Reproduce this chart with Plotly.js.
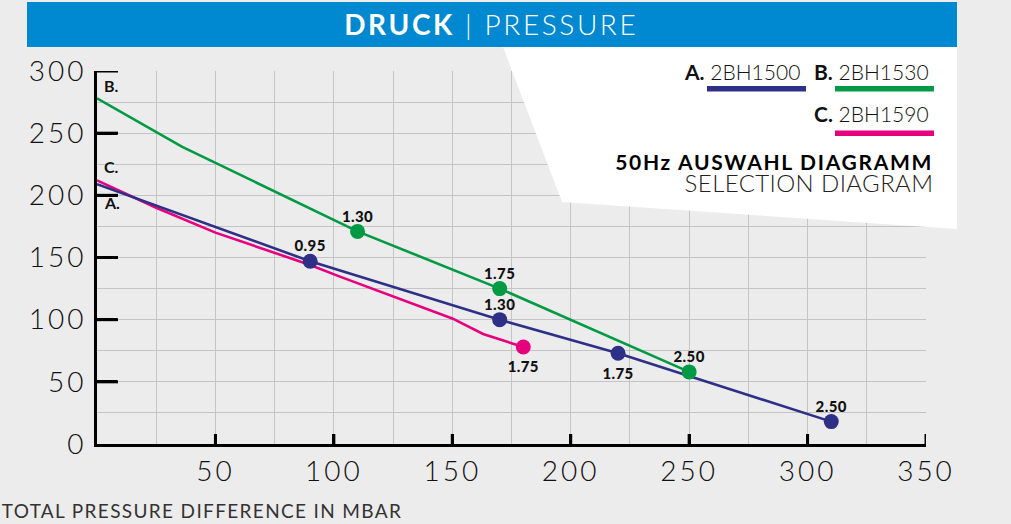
<!DOCTYPE html>
<html>
<head>
<meta charset="utf-8">
<script src="https://cdn.plot.ly/plotly-3.0.1.min.js"></script>
<style>
html,body{margin:0;padding:0;background:#ececec;}
#chart{width:1011px;height:524px;}
#chart .xtick text, #chart .ytick text{letter-spacing:3px;}
#chart g.annotation[data-index="0"] text{letter-spacing:2.6px;}
#chart g.annotation[data-index="4"] text{letter-spacing:1.7px;}
#chart g.annotation[data-index="5"] text{letter-spacing:0.4px;}
#chart g.annotation[data-index="6"] text{letter-spacing:1.35px;}
#chart .textpoint text{letter-spacing:0.4px;}
</style>
</head>
<body>
<div id="chart"></div>
<script>
// ---- data ----
const seriesNames = ['2BH1500', '2BH1530', '2BH1590'];
const seriesLetters = ['A.', 'B.', 'C.'];

const aX = [0, 90, 170, 220, 310];
const aY = [209, 147, 100, 73, 18];
const bX = [0, 36, 110, 170, 250];
const bY = [278, 239, 171, 125, 58];
const cX = [0, 25, 50, 90, 102, 150, 163, 180];
const cY = [212, 190, 170, 144, 135, 101, 88.5, 78];

const aPtX = [90, 170, 220, 310];
const aPtY = [147, 100, 73, 18];
const aPtLbl = ['0.95', '1.30', '1.75', '2.50'];
const bPtX = [110, 170, 250];
const bPtY = [171, 125, 58];
const bPtLbl = ['1.30', '1.75', '2.50'];
const cPtX = [180];
const cPtY = [78];
const cPtLbl = ['1.75'];

const xTicks = [50, 100, 150, 200, 250, 300, 350];
const yTicks = [0, 50, 100, 150, 200, 250, 300];

// ---- styling ----
const colA = '#2e3087', colB = '#009a44', colC = '#e6007e';
const FONT = 'Lato, "Open Sans", sans-serif';
const aPos = ['top center', 'top center', 'bottom center', 'top center'];
const bPos = ['top center', 'top center', 'top center'];
const cPos = ['bottom center'];

function lineTrace(x, y, c) {
  return {x: x, y: y, type: 'scatter', mode: 'lines', line: {color: c, width: 2.6}, hoverinfo: 'skip', showlegend: false, cliponaxis: false};
}
function dotTrace(x, y, c) {
  return {x: x, y: y, type: 'scatter', mode: 'markers', marker: {color: c, size: 15, line: {width: 0}},
    hoverinfo: 'skip', showlegend: false, cliponaxis: false};
}
function lblTrace(x, y, t, pos) {
  return {x: x, y: y, text: t, type: 'scatter', mode: 'markers+text', textposition: pos,
    marker: {color: 'rgba(0,0,0,0)', opacity: 0, line: {width: 0, color: 'rgba(0,0,0,0)'},
      size: pos.map(function (p) { return p.indexOf('bottom') === 0 ? 21 : 8; })},
    textfont: {family: FONT, size: 15, color: '#111', weight: 900},
    hoverinfo: 'skip', showlegend: false, cliponaxis: false};
}

const traces = [
  lineTrace(cX, cY, colC), lineTrace(aX, aY, colA), lineTrace(bX, bY, colB),
  dotTrace(cPtX, cPtY, colC), dotTrace(aPtX, aPtY, colA), dotTrace(bPtX, bPtY, colB),
  lblTrace(cPtX, cPtY, cPtLbl, cPos), lblTrace(aPtX, aPtY, aPtLbl, aPos), lblTrace(bPtX, bPtY, bPtLbl, bPos)
];

const W = 829, H = 373, L = 97, T = 71;
function px(p) { return (p - L) / W; }
function py(p) { return (T + H - p) / H; }

const shapes = [
  {type: 'rect', xref: 'paper', yref: 'paper', x0: px(27), x1: px(957), y0: py(47), y1: py(2), fillcolor: '#0088d0', line: {width: 0}, layer: 'above'},
  {type: 'path', xref: 'paper', yref: 'paper', layer: 'above', fillcolor: '#ffffff', line: {width: 0},
   path: 'M ' + px(503) + ' ' + py(47) + ' L ' + px(562) + ' ' + py(202) + ' L ' + px(957) + ' ' + py(229) + ' L ' + px(957) + ' ' + py(47) + ' Z'},
  {type: 'rect', xref: 'paper', yref: 'paper', x0: px(707), x1: px(806), y0: py(91.5), y1: py(86), fillcolor: colA, line: {width: 0}, layer: 'above'},
  {type: 'rect', xref: 'paper', yref: 'paper', x0: px(835), x1: px(934), y0: py(91.5), y1: py(86), fillcolor: colB, line: {width: 0}, layer: 'above'},
  {type: 'rect', xref: 'paper', yref: 'paper', x0: px(835), x1: px(934), y0: py(136), y1: py(130.5), fillcolor: colC, line: {width: 0}, layer: 'above'}
];
// axis tick marks (inside), one per tick value
xTicks.forEach(function (v) {
  shapes.push({type: 'line', xref: 'x', yref: 'y', x0: v, x1: v, ysizemode: 'pixel', yanchor: 0, y0: 0, y1: 10,
    line: {color: '#000', width: 3}, layer: 'above'});
});
yTicks.forEach(function (v) {
  if (v === 0) return;
  shapes.push({type: 'line', xref: 'x', yref: 'y', y0: v, y1: v, xsizemode: 'pixel', xanchor: 0, x0: 0, x1: 21,
    line: {color: '#000', width: 3}, layer: 'above'});
});

const annotations = [
  {xref: 'paper', yref: 'paper', x: px(491), y: py(24), xanchor: 'center', yanchor: 'middle', showarrow: false,
   text: '<b>DRUCK</b> | PRESSURE', font: {family: FONT, size: 28, color: '#ffffff', weight: 300}},
  {xref: 'paper', yref: 'paper', x: px(802), y: py(71), xanchor: 'right', yanchor: 'middle', showarrow: false,
   text: '<b>' + seriesLetters[0] + '</b> ' + seriesNames[0], font: {family: FONT, size: 21, color: '#111', weight: 300}},
  {xref: 'paper', yref: 'paper', x: px(931), y: py(71), xanchor: 'right', yanchor: 'middle', showarrow: false,
   text: '<b>' + seriesLetters[1] + '</b> ' + seriesNames[1], font: {family: FONT, size: 21, color: '#111', weight: 300}},
  {xref: 'paper', yref: 'paper', x: px(931), y: py(114), xanchor: 'right', yanchor: 'middle', showarrow: false,
   text: '<b>' + seriesLetters[2] + '</b> ' + seriesNames[2], font: {family: FONT, size: 21, color: '#111', weight: 300}},
  {xref: 'paper', yref: 'paper', x: px(916.5), y: py(161), xanchor: 'right', yanchor: 'middle', showarrow: false,
   text: '<b>50Hz AUSWAHL DIAGRAMM</b>', font: {family: FONT, size: 21, color: '#000', weight: 900}},
  {xref: 'paper', yref: 'paper', x: px(932), y: py(182.5), xanchor: 'right', yanchor: 'middle', showarrow: false,
   text: 'SELECTION DIAGRAM', font: {family: FONT, size: 24, color: '#222', weight: 300}},
  {xref: 'paper', yref: 'paper', x: px(22), y: py(510), xanchor: 'left', yanchor: 'middle', showarrow: false,
   text: 'TOTAL PRESSURE DIFFERENCE IN MBAR', font: {family: FONT, size: 19, color: '#333', weight: 400}},
  {xref: 'x', yref: 'y', x: 2, y: 288, xanchor: 'left', yanchor: 'middle', showarrow: false,
   text: '<b>' + seriesLetters[1] + '</b>', font: {family: FONT, size: 16, color: '#111', weight: 900}},
  {xref: 'x', yref: 'y', x: 2, y: 223, xanchor: 'left', yanchor: 'middle', showarrow: false,
   text: '<b>' + seriesLetters[2] + '</b>', font: {family: FONT, size: 16, color: '#111', weight: 900}},
  {xref: 'x', yref: 'y', x: 2, y: 194.5, xanchor: 'left', yanchor: 'middle', showarrow: false,
   text: '<b>' + seriesLetters[0] + '</b>', font: {family: FONT, size: 16, color: '#111', weight: 900}}
];

const layout = {
  width: 1011, height: 524,
  margin: {l: L, r: 1011 - L - W, t: T, b: 524 - T - H, pad: 0},
  paper_bgcolor: '#ececec', plot_bgcolor: '#ececec',
  showlegend: false,
  xaxis: {range: [0, 350], tickmode: 'array', tickvals: xTicks, ticktext: xTicks.map(String),
    showgrid: true, gridcolor: '#c4c4c4', gridwidth: 1,
    minor: {tickmode: 'linear', tick0: 0, dtick: 25, showgrid: true, gridcolor: '#c4c4c4', gridwidth: 1},
    zeroline: false, showline: true, linecolor: '#000', linewidth: 3,
    ticks: 'inside', ticklen: 10, tickwidth: 3, tickcolor: '#000',
    tickfont: {family: FONT, size: 28, color: '#111', weight: 300}, fixedrange: true},
  yaxis: {range: [0, 300], tickmode: 'array', tickvals: yTicks, ticktext: yTicks.map(String),
    showgrid: false,
    minor: {tickmode: 'linear', tick0: 0, dtick: 25, showgrid: true, gridcolor: '#c4c4c4', gridwidth: 1},
    zeroline: false, showline: true, linecolor: '#000', linewidth: 3,
    ticks: 'inside', ticklen: 20, tickwidth: 3, tickcolor: '#000', ticklabelstandoff: 2,
    tickfont: {family: FONT, size: 28, color: '#111', weight: 300}, fixedrange: true},
  shapes: shapes,
  annotations: annotations
};

Plotly.newPlot('chart', traces, layout, {displayModeBar: false, staticPlot: true});
</script>
</body>
</html>
